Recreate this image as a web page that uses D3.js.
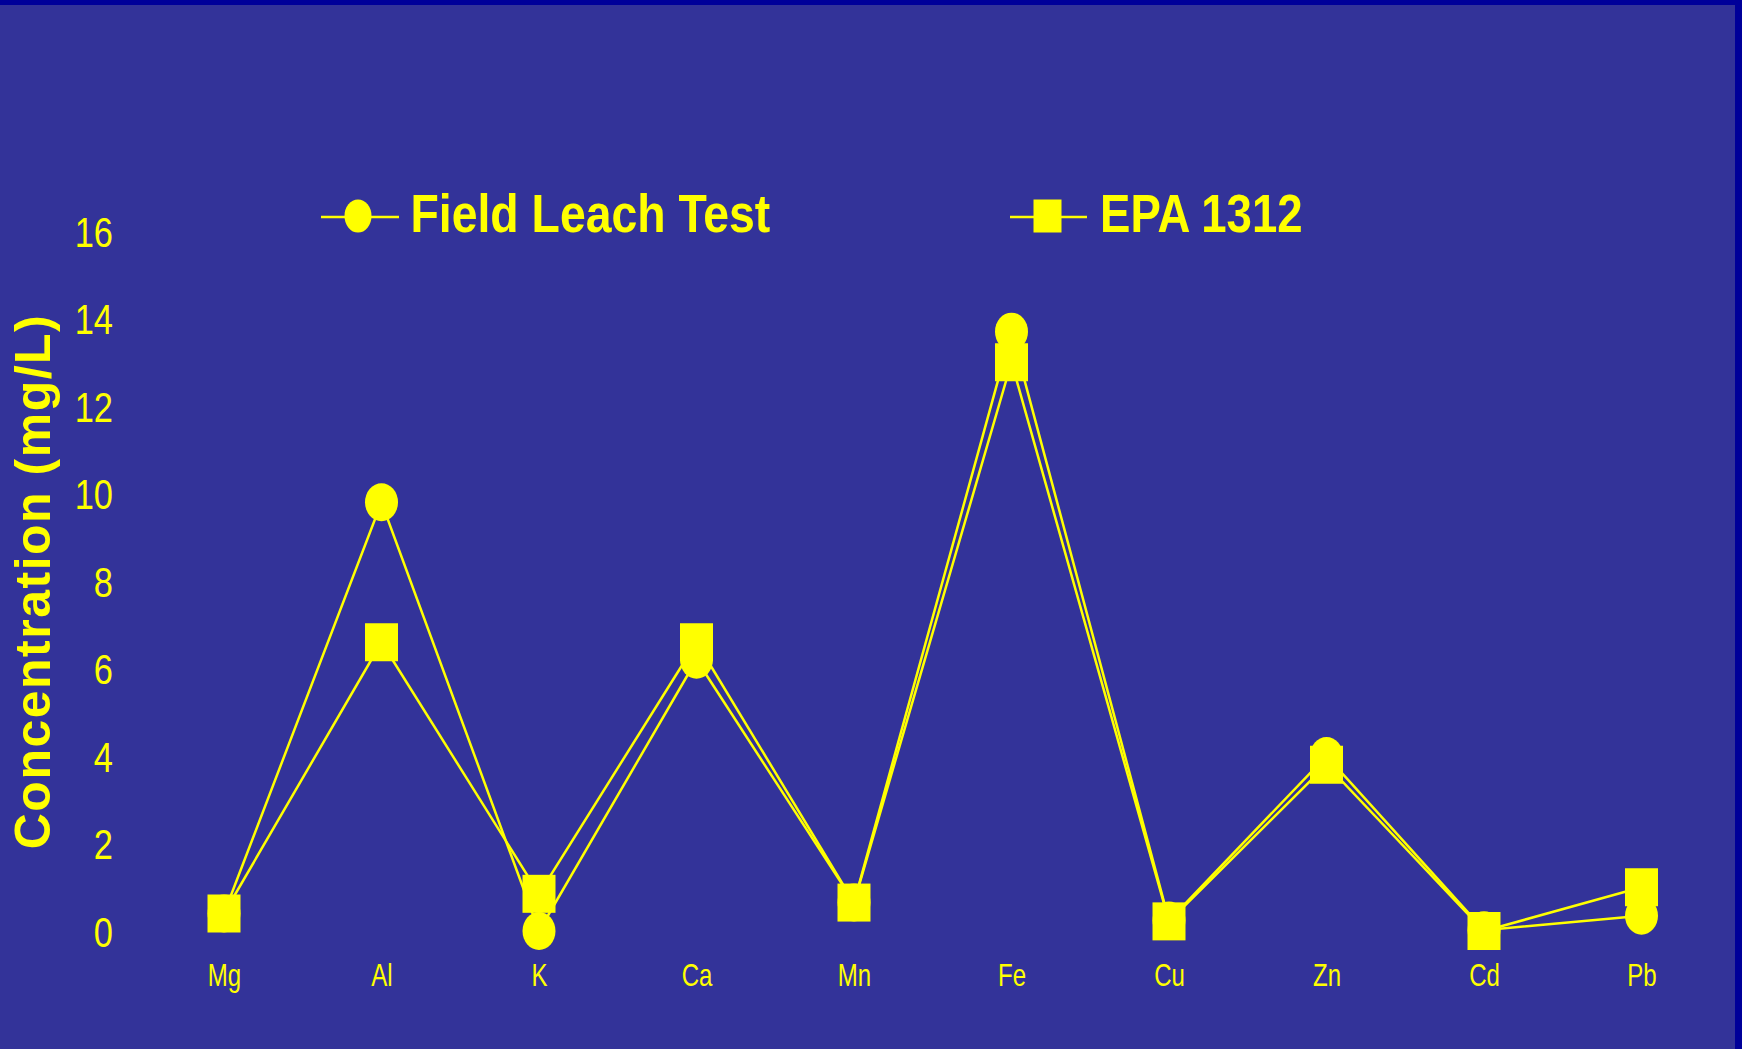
<!DOCTYPE html>
<html>
<head>
<meta charset="utf-8">
<script src="https://cdn.jsdelivr.net/npm/d3@7"></script>
<style>
    body { margin: 0; background: #333399; }
    #chart svg { display: block; }
</style>
</head>
<body>
<div id="chart"></div>
<script>
//Datos
const categories = ['Mg','Al','K','Ca','Mn','Fe','Cu','Zn','Cd','Pb'];
const fieldLeach = [0.4, 9.8, 0.0, 6.2, 0.65, 13.7, 0.24, 4.0, 0.02, 0.35];
const epa1312 = [0.4, 6.6, 0.85, 6.6, 0.65, 13.0, 0.22, 3.8, 0.0, 1.0];
const yTicks = [0, 2, 4, 6, 8, 10, 12, 14, 16];
const seriesNames = ['Field Leach Test', 'EPA 1312'];

const COLOR_BG = '#333399',
COLOR_BORDER = '#000099',
COLOR_YELLOW = '#FFFF00';

let width = 1742, height = 1049;

let svg = d3.select('#chart')
    .append('svg')
        .attr('width', width)
        .attr('height', height);

//Fondo y bordes
svg.append('rect').attr('width', width).attr('height', height).attr('fill', COLOR_BG);
svg.append('rect').attr('width', width).attr('height', 5).attr('fill', COLOR_BORDER);
svg.append('rect').attr('x', 1735).attr('width', 7).attr('height', height).attr('fill', COLOR_BORDER);

let x = d3.scalePoint()
    .domain(categories)
    .range([224, 1641.5]);

let y = d3.scaleLinear()
    .domain([0, 16])
    .range([931, 231]);

//Eje Y
let yAxis = svg.append('g')
    .attr('transform', 'translate(113,0)')
    .call(d3.axisLeft(y).tickValues(yTicks).tickSize(0).tickPadding(0).tickFormat(d3.format('d')));
yAxis.select('.domain').remove();
yAxis.selectAll('.tick text')
    .attr('x', 0)
    .attr('dy', '0.358em')
    .attr('text-anchor', 'end')
    .attr('transform', 'scale(0.82,1)')
    .attr('fill', COLOR_YELLOW)
    .style('font-family', 'Liberation Sans, Arial, sans-serif')
    .style('font-size', '42px');

//Eje X
let xAxis = svg.append('g')
    .attr('transform', 'translate(0,986)')
    .call(d3.axisBottom(x).tickSize(0).tickPadding(0));
xAxis.select('.domain').remove();
xAxis.selectAll('.tick text')
    .attr('y', 0)
    .attr('dy', null)
    .attr('text-anchor', 'middle')
    .attr('transform', 'scale(0.75,1)')
    .attr('fill', COLOR_YELLOW)
    .style('font-family', 'Liberation Sans, Arial, sans-serif')
    .style('font-size', '32px');

//Título eje Y
svg.append('text')
    .attr('transform', 'translate(50,581.5) rotate(-90)')
    .attr('text-anchor', 'middle')
    .attr('fill', COLOR_YELLOW)
    .style('font-family', 'Liberation Sans, Arial, sans-serif')
    .style('font-weight', 'bold')
    .style('font-size', '50px')
    .style('letter-spacing', '1.5px')
    .text('Concentration (mg/L)');

//Líneas
let line = d3.line()
    .x(function(d, i) { return x(categories[i]); })
    .y(function(d) { return y(d); });

[fieldLeach, epa1312].forEach(function(values) {
    svg.append('path')
        .datum(values)
        .attr('d', line)
        .attr('fill', 'none')
        .attr('stroke', COLOR_YELLOW)
        .attr('stroke-width', 2.5);
});

//Marcadores
svg.append('g')
    .selectAll('ellipse')
    .data(fieldLeach)
    .enter()
    .append('ellipse')
    .attr('cx', function(d, i) { return x(categories[i]); })
    .attr('cy', function(d) { return y(d); })
    .attr('rx', 16.5)
    .attr('ry', 19)
    .attr('fill', COLOR_YELLOW);

svg.append('g')
    .selectAll('rect')
    .data(epa1312)
    .enter()
    .append('rect')
    .attr('x', function(d, i) { return x(categories[i]) - 16.5; })
    .attr('y', function(d) { return y(d) - 19; })
    .attr('width', 33)
    .attr('height', 38)
    .attr('fill', COLOR_YELLOW);

//Leyenda
let legend = [
    {name: seriesNames[0], x0: 321, x1: 399, mx: 358, tx: 410.5, sx: 0.875, shape: 'circle'},
    {name: seriesNames[1], x0: 1010, x1: 1087, mx: 1047.5, tx: 1100, sx: 0.86, shape: 'square'}
];

legend.forEach(function(l) {
    let g = svg.append('g');
    g.append('line')
        .attr('x1', l.x0).attr('x2', l.x1)
        .attr('y1', 217).attr('y2', 217)
        .attr('stroke', COLOR_YELLOW)
        .attr('stroke-width', 2.5);
    if (l.shape == 'circle') {
        g.append('ellipse')
            .attr('cx', l.mx).attr('cy', 216)
            .attr('rx', 13.5).attr('ry', 16.5)
            .attr('fill', COLOR_YELLOW);
    } else {
        g.append('rect')
            .attr('x', l.mx - 14).attr('y', 199.5)
            .attr('width', 28).attr('height', 33)
            .attr('fill', COLOR_YELLOW);
    }
    g.append('text')
        .attr('transform', 'translate(' + l.tx + ',232) scale(' + l.sx + ',1)')
        .attr('fill', COLOR_YELLOW)
        .style('font-family', 'Liberation Sans, Arial, sans-serif')
        .style('font-weight', 'bold')
        .style('font-size', '53px')
        .text(l.name);
});
</script>
</body>
</html>
